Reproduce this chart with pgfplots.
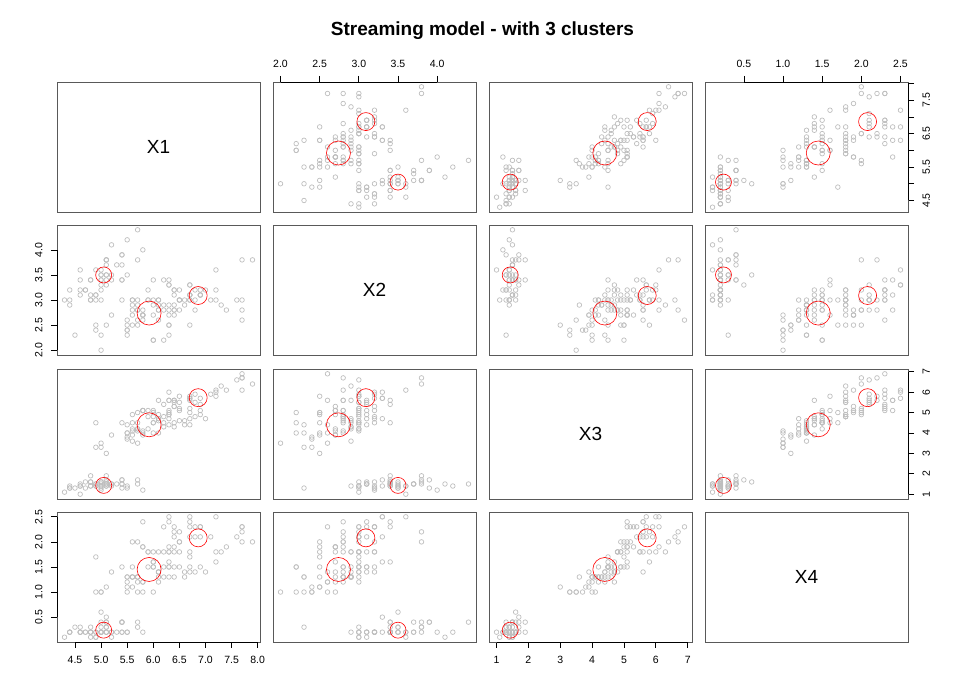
\documentclass[border=0pt]{standalone}
\usepackage{pgfplots}
\pgfplotsset{compat=1.18}
\usepackage{pgfplotstable}
\usepackage{fontspec}
\setmainfont{Liberation Sans}

\pgfplotstableread{
a b c d
5.1 3.5 1.4 0.2
4.9 3.0 1.4 0.2
4.7 3.2 1.3 0.2
4.6 3.1 1.5 0.2
5.0 3.6 1.4 0.2
5.4 3.9 1.7 0.4
4.6 3.4 1.4 0.3
5.0 3.4 1.5 0.2
4.4 2.9 1.4 0.2
4.9 3.1 1.5 0.1
5.4 3.7 1.5 0.2
4.8 3.4 1.6 0.2
4.8 3.0 1.4 0.1
4.3 3.0 1.1 0.1
5.8 4.0 1.2 0.2
5.7 4.4 1.5 0.4
5.4 3.9 1.3 0.4
5.1 3.5 1.4 0.3
5.7 3.8 1.7 0.3
5.1 3.8 1.5 0.3
5.4 3.4 1.7 0.2
5.1 3.7 1.5 0.4
4.6 3.6 1.0 0.2
5.1 3.3 1.7 0.5
4.8 3.4 1.9 0.2
5.0 3.0 1.6 0.2
5.0 3.4 1.6 0.4
5.2 3.5 1.5 0.2
5.2 3.4 1.4 0.2
4.7 3.2 1.6 0.2
4.8 3.1 1.6 0.2
5.4 3.4 1.5 0.4
5.2 4.1 1.5 0.1
5.5 4.2 1.4 0.2
4.9 3.1 1.5 0.2
5.0 3.2 1.2 0.2
5.5 3.5 1.3 0.2
4.9 3.6 1.4 0.1
4.4 3.0 1.3 0.2
5.1 3.4 1.5 0.2
5.0 3.5 1.3 0.3
4.5 2.3 1.3 0.3
4.4 3.2 1.3 0.2
5.0 3.5 1.6 0.6
5.1 3.8 1.9 0.4
4.8 3.0 1.4 0.3
5.1 3.8 1.6 0.2
4.6 3.2 1.4 0.2
5.3 3.7 1.5 0.2
5.0 3.3 1.4 0.2
7.0 3.2 4.7 1.4
6.4 3.2 4.5 1.5
6.9 3.1 4.9 1.5
5.5 2.3 4.0 1.3
6.5 2.8 4.6 1.5
5.7 2.8 4.5 1.3
6.3 3.3 4.7 1.6
4.9 2.4 3.3 1.0
6.6 2.9 4.6 1.3
5.2 2.7 3.9 1.4
5.0 2.0 3.5 1.0
5.9 3.0 4.2 1.5
6.0 2.2 4.0 1.0
6.1 2.9 4.7 1.4
5.6 2.9 3.6 1.3
6.7 3.1 4.4 1.4
5.6 3.0 4.5 1.5
5.8 2.7 4.1 1.0
6.2 2.2 4.5 1.5
5.6 2.5 3.9 1.1
5.9 3.2 4.8 1.8
6.1 2.8 4.0 1.3
6.3 2.5 4.9 1.5
6.1 2.8 4.7 1.2
6.4 2.9 4.3 1.3
6.6 3.0 4.4 1.4
6.8 2.8 4.8 1.4
6.7 3.0 5.0 1.7
6.0 2.9 4.5 1.5
5.7 2.6 3.5 1.0
5.5 2.4 3.8 1.1
5.5 2.4 3.7 1.0
5.8 2.7 3.9 1.2
6.0 2.7 5.1 1.6
5.4 3.0 4.5 1.5
6.0 3.4 4.5 1.6
6.7 3.1 4.7 1.5
6.3 2.3 4.4 1.3
5.6 3.0 4.1 1.3
5.5 2.5 4.0 1.3
5.5 2.6 4.4 1.2
6.1 3.0 4.6 1.4
5.8 2.6 4.0 1.2
5.0 2.3 3.3 1.0
5.6 2.7 4.2 1.3
5.7 3.0 4.2 1.2
5.7 2.9 4.2 1.3
6.2 2.9 4.3 1.3
5.1 2.5 3.0 1.1
5.7 2.8 4.1 1.3
6.3 3.3 6.0 2.5
5.8 2.7 5.1 1.9
7.1 3.0 5.9 2.1
6.3 2.9 5.6 1.8
6.5 3.0 5.8 2.2
7.6 3.0 6.6 2.1
4.9 2.5 4.5 1.7
7.3 2.9 6.3 1.8
6.7 2.5 5.8 1.8
7.2 3.6 6.1 2.5
6.5 3.2 5.1 2.0
6.4 2.7 5.3 1.9
6.8 3.0 5.5 2.1
5.7 2.5 5.0 2.0
5.8 2.8 5.1 2.4
6.4 3.2 5.3 2.3
6.5 3.0 5.5 1.8
7.7 3.8 6.7 2.2
7.7 2.6 6.9 2.3
6.0 2.2 5.0 1.5
6.9 3.2 5.7 2.3
5.6 2.8 4.9 2.0
7.7 2.8 6.7 2.0
6.3 2.7 4.9 1.8
6.7 3.3 5.7 2.1
7.2 3.2 6.0 1.8
6.2 2.8 4.8 1.8
6.1 3.0 4.9 1.8
6.4 2.8 5.6 2.1
7.2 3.0 5.8 1.6
7.4 2.8 6.1 1.9
7.9 3.8 6.4 2.0
6.4 2.8 5.6 2.2
6.3 2.8 5.1 1.5
6.1 2.6 5.6 1.4
7.7 3.0 6.1 2.3
6.3 3.4 5.6 2.4
6.4 3.1 5.5 1.8
6.0 3.0 4.8 1.8
6.9 3.1 5.4 2.1
6.7 3.1 5.6 2.4
6.9 3.1 5.1 2.3
5.8 2.7 5.1 1.9
6.8 3.2 5.9 2.3
6.7 3.3 5.7 2.5
6.7 3.0 5.2 2.3
6.3 2.5 5.0 1.9
6.5 3.0 5.2 2.0
6.2 3.4 5.4 2.3
5.9 3.0 5.1 1.8
}\iris

\pgfplotstableread{
a b c d
5.05 3.50 1.43 0.24
}\cA
\pgfplotstableread{
a b c d
5.92 2.74 4.40 1.45
}\cB
\pgfplotstableread{
a b c d
6.86 3.09 5.73 2.08
}\cC

\definecolor{ptgray}{RGB}{190,190,190}

\pgfplotsset{
  panel/.style={scale only axis, width=203pt, height=130pt, anchor=south west,
    xtick=\empty, ytick=\empty,
    axis line style={draw=black!65, line width=0.8pt},
    tick align=outside, major tick length=6pt,
    tick style={black, line width=0.7pt},
    ticklabel style={font=\fontsize{10.5}{12}\selectfont},
    xticklabel shift=5pt, yticklabel shift=5pt,
    clip mode=individual},
  xa/.style={xmin=4.156,xmax=8.044}, ya/.style={ymin=4.156,ymax=8.044},
  xb/.style={xmin=1.904,xmax=4.496}, yb/.style={ymin=1.904,ymax=4.496},
  xc/.style={xmin=0.764,xmax=7.136}, yc/.style={ymin=0.764,ymax=7.136},
  xd/.style={xmin=0.004,xmax=2.596}, yd/.style={ymin=0.004,ymax=2.596},
  topline/.style 2 args={after end axis/.append code={\draw[black, line width=0.8pt] ({axis cs:#1,0} |- {rel axis cs:0,1}) -- ({axis cs:#2,0} |- {rel axis cs:0,1});}},
  botline/.style 2 args={after end axis/.append code={\draw[black, line width=0.8pt] ({axis cs:#1,0} |- {rel axis cs:0,0}) -- ({axis cs:#2,0} |- {rel axis cs:0,0});}},
  leftline/.style 2 args={after end axis/.append code={\draw[black, line width=0.8pt] ({rel axis cs:0,0} |- {axis cs:0,#1}) -- ({rel axis cs:0,0} |- {axis cs:0,#2});}},
  rightline/.style 2 args={after end axis/.append code={\draw[black, line width=0.8pt] ({rel axis cs:1,0} |- {axis cs:0,#1}) -- ({rel axis cs:1,0} |- {axis cs:0,#2});}},
  topB/.style={xtick={2,2.5,3,3.5,4}, xticklabels={2.0,2.5,3.0,3.5,4.0}, xtick pos=right, xticklabel pos=right, topline={2}{4}},
  topD/.style={xtick={0.5,1,1.5,2,2.5}, xticklabels={0.5,1.0,1.5,2.0,2.5}, xtick pos=right, xticklabel pos=right, topline={0.5}{2.5}},
  botA/.style={xtick={4.5,5,5.5,6,6.5,7,7.5,8}, xticklabels={4.5,5.0,5.5,6.0,6.5,7.0,7.5,8.0}, xtick pos=left, xticklabel pos=left, botline={4.5}{8}},
  botC/.style={xtick={1,2,3,4,5,6,7}, xticklabels={1,2,3,4,5,6,7}, xtick pos=left, xticklabel pos=left, botline={1}{7}},
  leftB/.style={ytick={2,2.5,3,3.5,4}, yticklabels={2.0,2.5,3.0,3.5,4.0}, ytick pos=left, yticklabel pos=left, yticklabel style={rotate=90, anchor=south}, leftline={2}{4}},
  leftD/.style={ytick={0.5,1,1.5,2,2.5}, yticklabels={0.5,1.0,1.5,2.0,2.5}, ytick pos=left, yticklabel pos=left, yticklabel style={rotate=90, anchor=south}, leftline={0.5}{2.5}},
  rightA/.style={ytick={4.5,5,5.5,6,6.5,7,7.5,8}, yticklabels={4.5,,5.5,,6.5,,7.5,}, ytick pos=right, yticklabel pos=right, yticklabel style={rotate=90, anchor=north}, rightline={4.5}{8}},
  rightC/.style={ytick={1,2,3,4,5,6,7}, yticklabels={1,2,3,4,5,6,7}, ytick pos=right, yticklabel pos=right, yticklabel style={rotate=90, anchor=north}, rightline={1}{7}},
}

\newcommand\panel[5]{%
  \begin{axis}[panel, at={(#1pt,#2pt)}, x#3, y#4, #5]
    \addplot[only marks, mark=o, mark size=2.3pt, ptgray, mark options={line width=0.7pt}] table[x=#3,y=#4]{\iris};
    \addplot[only marks, mark=o, mark size=8pt, red, mark options={line width=0.6pt}] table[x=#3,y=#4]{\cA};
    \addplot[only marks, mark=o, mark size=12pt, red, mark options={line width=0.6pt}] table[x=#3,y=#4]{\cB};
    \addplot[only marks, mark=o, mark size=9pt, red, mark options={line width=0.6pt}] table[x=#3,y=#4]{\cC};
  \end{axis}}

\newcommand\diagpanel[3]{%
  \begin{axis}[panel, at={(#1pt,#2pt)}, xmin=0, xmax=1, ymin=0, ymax=1]
    \node[font=\fontsize{19}{22}\selectfont] at (axis cs:0.5,0.5) {#3};
  \end{axis}}

\begin{document}
\begin{tikzpicture}
\useasboundingbox (0,0) rectangle (965pt,700pt);
\node[font=\bfseries\fontsize{19}{22}\selectfont, anchor=base] at (482.5pt,664.5pt) {Streaming model - with 3 clusters};
% row 1
\diagpanel{57}{488}{X1}
\panel{273}{488}{b}{a}{topB}
\panel{489}{488}{c}{a}{}
\panel{705}{488}{d}{a}{topD, rightA}
% row 2
\panel{57}{345}{a}{b}{leftB}
\diagpanel{273}{345}{X2}
\panel{489}{345}{c}{b}{}
\panel{705}{345}{d}{b}{}
% row 3
\panel{57}{201}{a}{c}{}
\panel{273}{201}{b}{c}{}
\diagpanel{489}{201}{X3}
\panel{705}{201}{d}{c}{rightC}
% row 4
\panel{57}{58}{a}{d}{botA, leftD}
\panel{273}{58}{b}{d}{}
\panel{489}{58}{c}{d}{botC}
\diagpanel{705}{58}{X4}
\end{tikzpicture}
\end{document}
